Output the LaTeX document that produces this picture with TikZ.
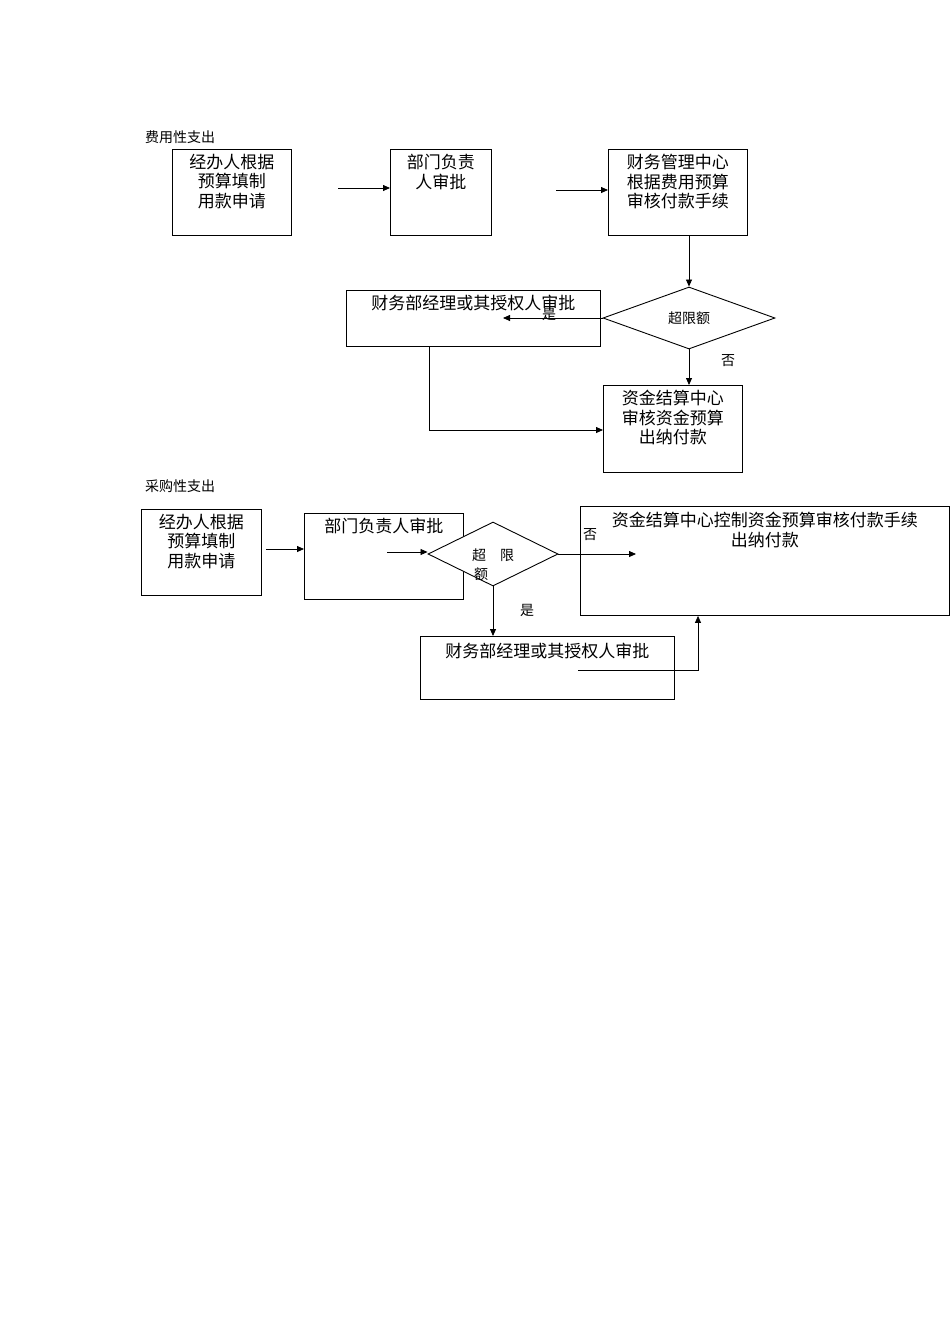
\documentclass[tikz,border=0pt]{standalone}
\usepackage{fontspec}
\setmainfont{Noto Sans CJK SC}
\usetikzlibrary{arrows.meta,positioning,shapes.geometric}
\tikzset{
  box/.style={draw,line width=0.9pt,anchor=north west,inner sep=0pt},
  txt/.style={font=\fontsize{17}{19.5}\selectfont,align=center,inner sep=0pt,anchor=north},
  small/.style={font=\fontsize{14}{16}\selectfont,inner sep=0pt},
  dia/.style={draw,diamond,aspect=2.7,line width=0.9pt,inner sep=0pt},
  arr/.style={-{Triangle[length=7pt,width=6pt]},line width=0.8pt},
  ln/.style={line width=0.8pt}
}
\begin{document}
\begin{tikzpicture}[x=1pt,y=-1pt]
\useasboundingbox (0,0) rectangle (950,1344);
%费用性支出
\node[small,anchor=west] (t1) at (145,137) {费用性支出};
\node[box,minimum width=119,minimum height=86] (a1) at (172,149) {};
\node[txt] at ([yshift=-5]a1.north) {经办人根据\\预算填制\\用款申请};
\node[box,minimum width=101,minimum height=86] (b1) at (390,149) {};
\node[txt] at ([yshift=-5]b1.north) {部门负责\\人审批};
\node[box,minimum width=139,minimum height=86] (c1) at (608,149) {};
\node[txt] at ([yshift=-5]c1.north) {财务管理中心\\根据费用预算\\审核付款手续};
\node[dia,minimum width=172,minimum height=62] (d1) at (689,318) {};
\node[small] at (d1) {超限额};
\node[box,minimum width=254,minimum height=56] (e1) at (346,290) {};
\node[txt] at ([yshift=-5]e1.north) {财务部经理或其授权人审批};
\node[box,minimum width=139,minimum height=87] (f1) at (603,385) {};
\node[txt] at ([yshift=-5]f1.north) {资金结算中心\\审核资金预算\\出纳付款};
\coordinate (s1) at (338,188);
\coordinate (s2) at (556,190);
\coordinate (g1) at (503,318);
\draw[arr] (s1) -- (s1 -| b1.west);
\draw[arr] (s2) -- (s2 -| c1.west);
\draw[arr] (c1.south -| d1.north) -- (d1.north);
\draw[arr] (d1.west) -- (g1);
\node[small] at (549,314) {是};
\draw[arr] (d1.south) -- (d1.south |- f1.north);
\node[small] at (728,361) {否};
\draw[arr] (429,346) -- (429,430) -- (429,430 -| f1.west);
%采购性支出
\node[small,anchor=west] (t2) at (145,486) {采购性支出};
\node[box,minimum width=120,minimum height=86] (a2) at (141,509) {};
\node[txt] at ([yshift=-5]a2.north) {经办人根据\\预算填制\\用款申请};
\node[box,minimum width=159,minimum height=86] (b2) at (304,513) {};
\node[txt] at ([yshift=-5]b2.north) {部门负责人审批};
\node[dia,fill=white,minimum width=130,minimum height=64] (d2) at (493,554) {};
\node[small] at (493,555) {超\quad 限};
\node[small] at (481,574) {额};
\node[box,minimum width=369,minimum height=109] (c2) at (580,506) {};
\node[txt] at ([yshift=-6]c2.north) {资金结算中心控制资金预算审核付款手续\\出纳付款};
\node[box,minimum width=254,minimum height=63] (e2) at (420,636) {};
\node[txt] at ([yshift=-7]e2.north) {财务部经理或其授权人审批};
\coordinate (s3) at (266,549);
\coordinate (s4) at (387,552);
\coordinate (s5) at (636,554);
\coordinate (s6) at (578,670);
\draw[arr] (s3) -- (s3 -| b2.west);
\draw[arr] (s4) -- (s4 -| d2.west);
\draw[arr] (d2.east) -- (s5);
\node[small] at (590,535) {否};
\draw[arr] (d2.south) -- (d2.south |- e2.north);
\node[small] at (527,610) {是};
\draw[arr] (s6) -- (698,670) -- (698,670 |- c2.south);
\end{tikzpicture}
\end{document}
